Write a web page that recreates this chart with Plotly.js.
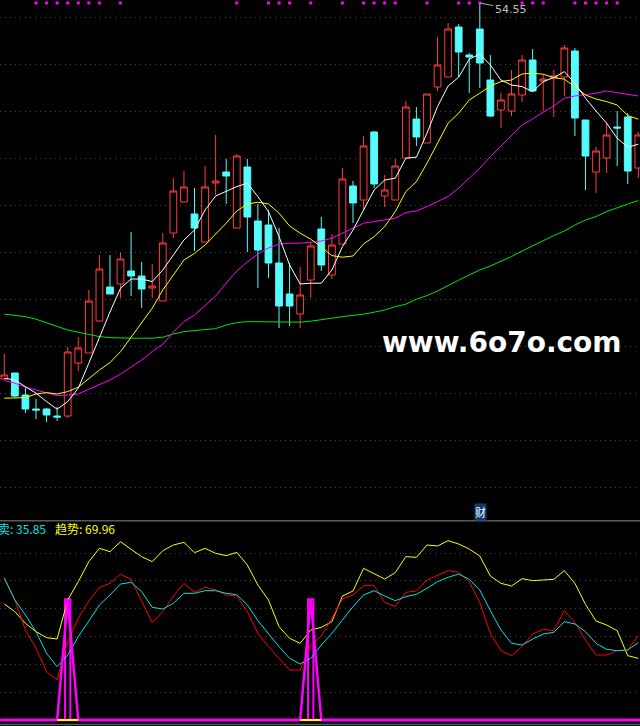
<!DOCTYPE html>
<html>
<head>
<meta charset="utf-8">
<script src="https://cdn.plot.ly/plotly-3.0.1.min.js"></script>
<style>
html,body{margin:0;padding:0;background:#000;}
#chart{width:640px;height:726px;}
</style>
</head>
<body>
<div id="chart"></div>
<script>
// ---- candle data (price) ----
var openP = [35.75,36.05,34.95,34.25,34.25,33.90,33.90,36.55,37.05,38.65,
  40.35,40.50,41.15,40.90,40.30,39.65,43.05,44.60,44.00,42.60,
  45.55,46.10,43.30,46.35,43.65,43.45,41.55,40.00,39.00,40.70,
  43.25,40.95,42.50,45.40,44.70,48.10,44.90,44.70,46.80,48.75,
  47.55,50.35,50.85,53.35,51.95,53.25,50.70,49.20,49.15,49.95,
  51.70,50.65,50.80,50.85,52.15,48.70,46.10,46.80,48.35,48.85,46.30];
var highP = [37.00,36.05,35.35,34.75,34.30,34.35,37.35,37.85,40.20,41.95,
  41.95,42.05,43.10,41.60,41.50,43.05,45.80,46.15,45.30,46.40,
  47.95,46.75,47.00,46.75,44.50,44.20,43.30,41.55,41.35,42.60,
  43.85,43.00,46.30,45.65,47.90,48.15,45.95,46.75,49.65,49.35,
  50.00,52.85,53.55,53.50,52.05,54.55,51.95,50.05,51.20,51.95,
  52.25,51.00,51.20,52.45,52.30,48.70,47.35,48.60,49.15,49.05,48.10];
var lowP = [35.70,34.85,34.05,33.75,33.60,33.65,33.80,36.15,37.05,38.65,
  40.00,39.80,39.90,39.30,39.80,39.65,42.80,44.60,42.15,42.60,
  44.95,44.50,43.30,42.10,40.30,40.80,38.30,38.40,38.30,39.80,
  41.15,40.75,42.50,43.55,44.20,45.30,44.35,44.70,46.80,47.40,
  47.55,50.15,50.85,50.85,50.05,50.30,48.85,48.30,48.90,49.60,
  50.15,49.15,48.85,49.90,47.90,45.20,45.05,46.05,46.40,45.50,45.80];
var closeP = [35.95,34.90,34.25,34.20,33.95,33.85,37.10,37.30,39.65,41.25,
  40.00,41.75,40.90,40.25,40.40,42.55,45.15,45.35,43.30,45.35,
  45.65,45.90,46.90,43.85,42.20,41.55,39.40,39.40,39.95,42.40,
  41.45,42.45,45.75,44.55,47.40,45.50,45.20,46.40,49.35,47.85,
  50.00,51.45,53.25,52.10,51.85,51.55,48.90,49.70,50.00,51.70,
  50.15,50.75,50.90,52.30,48.80,46.90,47.15,47.95,48.30,46.15,47.95];

// ---- moving averages ----
var ma5 = [35.79,35.70,35.37,35.04,34.62,34.24,34.62,35.29,36.54,37.87,
  39.10,40.29,40.75,40.75,40.62,41.20,41.95,42.70,43.20,44.20,
  44.90,45.12,45.37,45.54,44.87,44.12,42.87,41.45,40.50,40.54,
  40.54,41.20,42.37,43.20,44.20,45.20,45.70,45.79,46.79,46.84,
  48.04,49.37,50.40,50.84,51.74,52.00,51.45,50.70,50.45,50.37,
  50.12,50.62,50.82,51.12,50.54,49.79,49.15,48.54,47.79,47.34,47.49];
var ma10 = [34.79,34.79,34.82,35.00,35.07,35.00,35.12,35.34,35.79,36.20,
  36.57,37.12,37.84,38.57,39.29,40.20,40.95,41.70,42.03,42.45,
  43.00,43.54,44.15,44.50,44.59,44.50,44.04,43.40,43.04,42.74,
  42.35,41.92,41.84,41.90,42.50,42.87,43.37,44.12,45.12,45.62,
  46.54,47.54,48.54,49.04,49.70,50.04,50.40,50.62,50.70,51.00,
  51.04,50.99,50.82,50.74,50.37,49.95,49.75,49.62,49.45,48.92,48.74];
var ma20 = [35.67,35.54,35.34,35.20,35.07,34.92,34.95,35.00,35.24,35.45,
  35.70,36.00,36.34,36.70,37.12,37.49,38.09,38.62,38.95,39.45,
  39.90,40.54,41.15,41.60,42.00,42.30,42.49,42.54,42.54,42.59,
  42.65,42.79,43.04,43.29,43.54,43.62,43.70,43.79,44.07,44.15,
  44.37,44.62,44.87,45.29,45.79,46.29,46.87,47.40,47.95,48.45,
  48.75,49.10,49.40,49.79,49.90,49.97,50.04,50.15,50.07,49.99,49.90];
var ma60 = [38.99,38.94,38.87,38.74,38.57,38.37,38.20,38.09,37.97,37.87,
  37.82,37.79,37.79,37.79,37.79,37.84,38.00,38.12,38.17,38.20,
  38.27,38.45,38.57,38.62,38.62,38.62,38.62,38.59,38.59,38.64,
  38.70,38.79,38.87,38.92,38.99,39.09,39.20,39.37,39.49,39.74,
  39.92,40.15,40.44,40.69,40.95,41.20,41.40,41.62,41.87,42.15,
  42.42,42.67,42.92,43.15,43.45,43.70,43.87,44.12,44.32,44.50,44.67];

// ---- top signal dots (bar indices) ----
var dotIdx = [3,4,5,6,7,8,9,11,22,25,26,27,29,32,34,35,36,37,40,43,44,45,49,50,51,54,55,56,57,58];

// ---- lower indicator ----
var trendY = [69.6,65,58,53,49.4,48.6,72,83,95,103,
  101,107,102.4,98,95,101.6,105,106.6,100.4,103,
  100,98.6,100.6,93,81,72,56,49,46,54,
  55.6,59,74.4,77.4,91,88,84.6,88.4,98,97.6,
  105,104.4,107.6,105.6,102.6,98.4,86.4,82,80.4,84.8,
  83.6,84,84.4,89.6,82,69.4,59.4,57,53.6,38.6,37];
var redK = [85.6,72,54,43,29,24,47,61,71.4,79.6,
  82,87.4,84.4,71.4,58.4,65,74.4,82,76.6,79.6,
  78,75,74.4,65,52,44,37,30,30,45,
  50.4,61,72.6,75,80.6,80.6,70.6,68,76.6,77.4,
  84,86.6,89.6,88.6,83,70.4,52,41.6,38.6,44,
  51.6,54.4,53.6,65.6,58.4,48,39,39,41.6,42,50.6];
var sellC = [85,72,63,53,40,32,39,50,59.4,69,
  75,81.6,82.6,77,67.6,66.6,70,76,76,77.6,
  77.6,76,75.2,69,59.6,51.6,44,37,33.6,37,
  45,52,60,68,75,77.6,74.4,71.6,74,75.4,
  79,83,85.6,87.6,84.4,78,65.6,54,46,45,
  48.6,51.6,52.6,59,57.6,53,46,42.4,41.6,42,46.4];
var spikeIdx = [6, 29];
var spikeVal = [72.4, 72.4];

var labelSell = '卖: 35.85';
var labelTrend = '趋势: 69.96';
var highLabel = '54.55';
var watermark = 'www.6o7o.com';

// ---- build ----
var n = openP.length;
var idx = [];
for (var i = 0; i < n; i++) idx.push(i);
var spikeSeries = idx.map(function(){ return 0; });
spikeIdx.forEach(function(k, j){ spikeSeries[k] = spikeVal[j]; });
var ySegX = [], ySegY = [];
spikeIdx.forEach(function(k){ ySegX.push(k-1, k+1, null); ySegY.push(0, 0, null); });

var traces = [
  {type:'candlestick', x: idx, open: openP, high: highP, low: lowP, close: closeP,
   xaxis:'x', yaxis:'y', whiskerwidth:0, hoverinfo:'skip',
   increasing:{line:{color:'#ff3c3c', width:1}, fillcolor:'#000000'},
   decreasing:{line:{color:'#54fcfc', width:1}, fillcolor:'#54fcfc'}},
  {type:'scatter', mode:'lines', x: idx, y: ma60, line:{color:'#00e600', width:1}, xaxis:'x', yaxis:'y', hoverinfo:'skip'},
  {type:'scatter', mode:'lines', x: idx, y: ma20, line:{color:'#ff00ff', width:1}, xaxis:'x', yaxis:'y', hoverinfo:'skip'},
  {type:'scatter', mode:'lines', x: idx, y: ma10, line:{color:'#ffff00', width:1}, xaxis:'x', yaxis:'y', hoverinfo:'skip'},
  {type:'scatter', mode:'lines', x: idx, y: ma5, line:{color:'#ffffff', width:1}, xaxis:'x', yaxis:'y', hoverinfo:'skip'},
  {type:'scatter', mode:'markers', x: dotIdx, y: dotIdx.map(function(){return 54.55;}),
   marker:{symbol:'square', size:3, color:'#ff00ff', line:{width:0}}, xaxis:'x', yaxis:'y', hoverinfo:'skip'},
  // lower panel
  {type:'bar', x: spikeIdx, y: spikeVal, width:0.5, xaxis:'x2', yaxis:'y2',
   marker:{color:'rgba(0,0,0,0)', line:{color:'#ff00ff', width:2}}, hoverinfo:'skip'},
  {type:'scatter', mode:'lines', x: idx, y: trendY, line:{color:'#ffff00', width:1}, xaxis:'x2', yaxis:'y2', hoverinfo:'skip'},
  {type:'scatter', mode:'lines', x: idx, y: redK, line:{color:'#ff0000', width:1}, xaxis:'x2', yaxis:'y2', hoverinfo:'skip'},
  {type:'scatter', mode:'lines', x: idx, y: sellC, line:{color:'#00e5e5', width:1}, xaxis:'x2', yaxis:'y2', hoverinfo:'skip'},
  {type:'scatter', mode:'lines', x: idx, y: spikeSeries, line:{color:'#ff00ff', width:2.5}, xaxis:'x2', yaxis:'y2', hoverinfo:'skip'},
  {type:'scatter', mode:'lines', x: ySegX, y: ySegY, line:{color:'#ffff00', width:2}, xaxis:'x2', yaxis:'y2', hoverinfo:'skip', connectgaps:false}
];

var W = 640, H = 726;
var splitPx = 521;
var xr = [-0.407, 60.16];
var layout = {
  width: W, height: H,
  margin:{l:0, r:0, t:0, b:0, pad:0},
  paper_bgcolor:'#000000', plot_bgcolor:'#000000',
  showlegend:false,
  boxgap:0.2, boxgroupgap:0.2,
  bargap:0,
  xaxis:{range: xr, visible:false, fixedrange:true, rangeslider:{visible:false}, anchor:'y'},
  yaxis:{domain:[1 - splitPx/H, 1], range:[28.65, 54.70], showticklabels:false, ticks:'',
         showgrid:true, gridcolor:'#4a4a4a', gridwidth:1, griddash:'1px,4px',
         tick0:53.85, dtick:2.35, zeroline:false, showline:false, fixedrange:true},
  xaxis2:{range: xr, visible:false, fixedrange:true, anchor:'y2', rangeslider:{visible:false}},
  yaxis2:{domain:[0, 1 - splitPx/H], range:[-3.6, 119.4], showticklabels:false, ticks:'',
          showgrid:true, gridcolor:'#4a4a4a', gridwidth:1, griddash:'1px,4px',
          tickmode:'array', tickvals:[16.7, 33.4, 50.1, 66.8, 83.5, 100.2],
          zeroline:false, showline:false, fixedrange:true},
  shapes:[
    {type:'line', xref:'paper', yref:'paper', x0:0, x1:1, y0:1-520.7/H, y1:1-520.7/H, line:{color:'#5a5a5a', width:1.5}},
    {type:'line', xref:'paper', yref:'paper', x0:0, x1:1, y0:1-724.5/H, y1:1-724.5/H, line:{color:'#5a5a5a', width:1.5}},
    {type:'line', xref:'paper', yref:'y2', x0:0, x1:1, y0:0, y1:0, line:{color:'#ff00ff', width:2.5}, layer:'below'}
  ],
  annotations:[
    {xref:'paper', yref:'paper', x:-4/W, y:1-528/H, xanchor:'left', yanchor:'middle', showarrow:false,
     text: labelSell, font:{family:'Noto Sans CJK SC', size:12, color:'#00e5e5'}},
    {xref:'paper', yref:'paper', x:52.5/W, y:1-528/H, xanchor:'left', yanchor:'middle', showarrow:false,
     text: labelTrend, font:{family:'Noto Sans CJK SC', size:12, color:'#ffff00'}},
    {xref:'paper', yref:'paper', x:480.5/W, y:1-512/H, xanchor:'center', yanchor:'middle', showarrow:false,
     text:'财', bgcolor:'#0b3d72', borderpad:0, font:{family:'Noto Sans CJK SC', size:11, color:'#ffffff'}},
    {xref:'x', yref:'y', x:45, y:54.55, ax:31, ay:6, showarrow:true, arrowhead:0, arrowwidth:1, arrowcolor:'#b0b0b0',
     standoff:0, startstandoff:0, text: highLabel, font:{family:'DejaVu Sans', size:11, color:'#c0c0c0'}},
    {xref:'paper', yref:'paper', x:502/W, y:1-342/H, xanchor:'center', yanchor:'middle', showarrow:false,
     text: watermark, font:{family:'DejaVu Sans', size:28, color:'#ffffff', weight:'bold'}}
  ]
};

Plotly.newPlot('chart', traces, layout, {displayModeBar:false, staticPlot:true});
</script>
</body>
</html>
